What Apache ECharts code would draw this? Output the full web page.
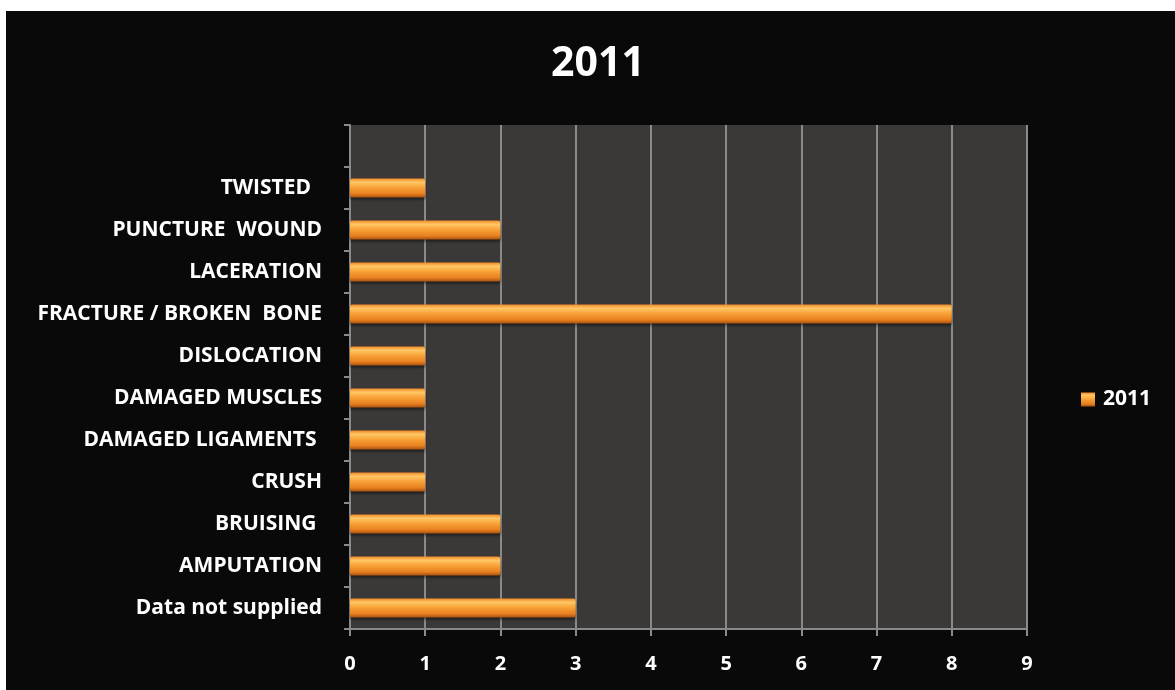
<!DOCTYPE html>
<html>
<head>
<meta charset="utf-8">
<script src="https://cdn.jsdelivr.net/npm/echarts@6/dist/echarts.min.js"></script>
<style>
html,body{margin:0;padding:0;background:#ffffff;width:1175px;height:690px;overflow:hidden;}
#chart{position:absolute;left:6px;top:11px;width:1169px;height:679px;background:#0a090a;}
</style>
</head>
<body>
<div id="chart"></div>
<script>
const categories = ["Data not supplied", "AMPUTATION", "BRUISING ", "CRUSH", "DAMAGED LIGAMENTS ", "DAMAGED MUSCLES", "DISLOCATION", "FRACTURE / BROKEN  BONE", "LACERATION", "PUNCTURE  WOUND", "TWISTED  ", ""];
const values2011 = [3, 2, 2, 1, 1, 1, 1, 8, 2, 2, 1, null];
const xTicks = [0, 9, 1];
const seriesName = "2011";

const chart = echarts.init(document.getElementById('chart'));
const fontFam = '"Open Sans", "DejaVu Sans", sans-serif';
chart.setOption({
  backgroundColor: '#0a090a',
  title: {
    text: '2011', left: 587, top: 28, textAlign: 'center',
    textStyle: {color: '#ffffff', fontSize: 41, fontWeight: 'bold', fontFamily: fontFam}
  },
  legend: {
    data: [seriesName], left: 1070, top: 373, icon: 'rect', itemWidth: 14, itemHeight: 14, itemGap: 6,
    textStyle: {color: '#ffffff', fontSize: 21, fontWeight: 'bold', fontFamily: fontFam, padding: [0, 0, 0, 3]}
  },
  grid: {left: 344, right: 148, top: 114, bottom: 61, containLabel: false,
    show: true, backgroundColor: '#3a3938', borderWidth: 0},
  xAxis: {
    type: 'value', min: xTicks[0], max: xTicks[1], interval: xTicks[2],
    axisLine: {show: true, lineStyle: {color: '#8a8a8a', width: 2}},
    axisTick: {show: true, length: 7, lineStyle: {color: '#8a8a8a', width: 2}},
    splitLine: {show: true, lineStyle: {color: '#8a8a8a', width: 2}},
    axisLabel: {color: '#ffffff', fontSize: 20, fontWeight: 'bold', fontFamily: fontFam, margin: 25}
  },
  yAxis: {
    type: 'category', data: categories,
    axisLine: {show: true, lineStyle: {color: '#8a8a8a', width: 2}},
    axisTick: {show: true, length: 6, alignWithLabel: false, lineStyle: {color: '#8a8a8a', width: 2}},
    axisLabel: {color: '#ffffff', fontSize: 21, fontWeight: 'bold', fontFamily: fontFam, margin: 28},
    splitLine: {show: false}
  },
  series: [{
    name: seriesName, type: 'bar', data: values2011, barWidth: 19,
    itemStyle: {
      color: new echarts.graphic.LinearGradient(0, 0, 0, 1, [
        {offset: 0, color: '#f08a28'},
        {offset: 0.2, color: '#ffc865'},
        {offset: 0.45, color: '#f9a43a'},
        {offset: 0.8, color: '#e8811f'},
        {offset: 1, color: '#a9520f'}
      ]),
      borderRadius: 2,
      shadowColor: 'rgba(0,0,0,0.5)', shadowBlur: 3, shadowOffsetY: 2
    }
  }]
});
</script>
</body>
</html>
